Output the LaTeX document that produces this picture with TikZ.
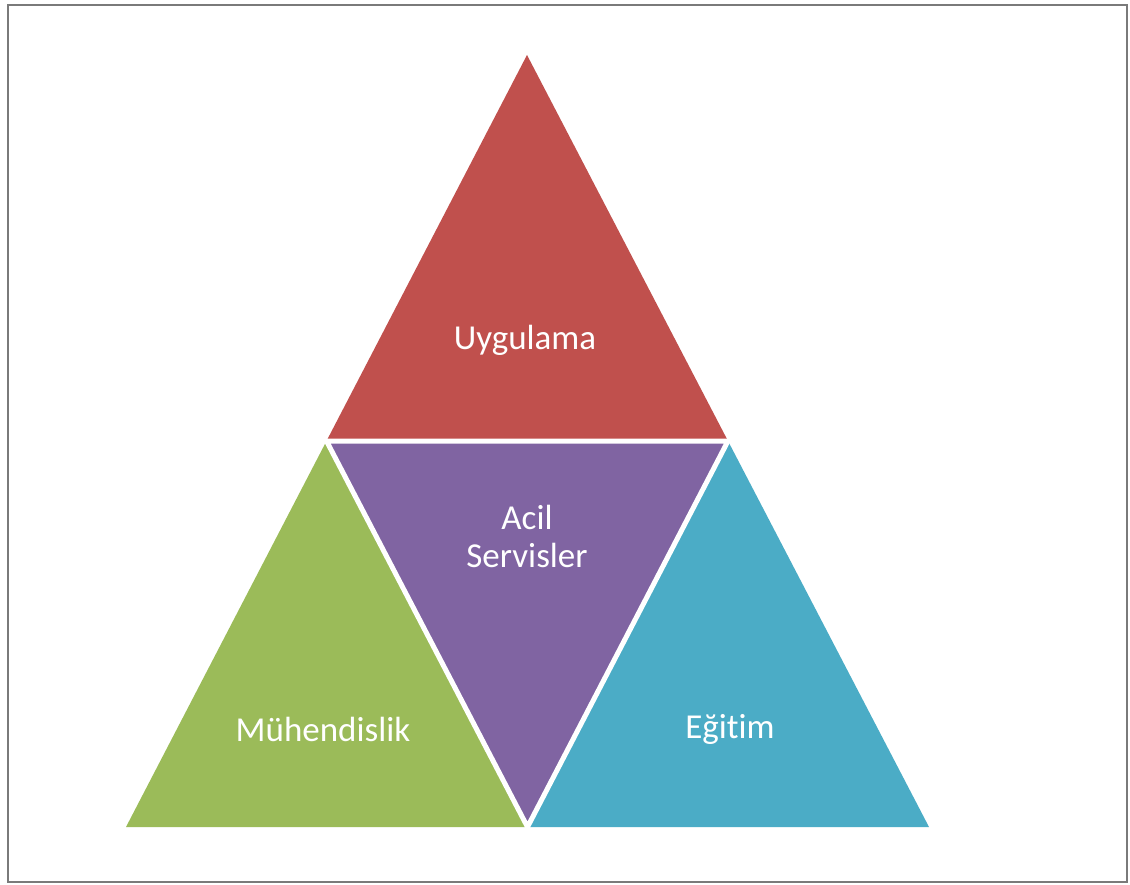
\documentclass[tikz,border=0pt]{standalone}
\usepackage{fontspec}
\setmainfont{Carlito}[Ligatures=NoCommon,RawFeature={-liga;-calt}]
\usetikzlibrary{calc}
\definecolor{frame}{HTML}{7A7A7A}
\definecolor{cred}{HTML}{C0504D}
\definecolor{cpurple}{HTML}{8064A2}
\definecolor{cgreen}{HTML}{9BBB59}
\definecolor{cblue}{HTML}{4BACC6}
\tikzset{
  lbl/.style={text=white, font=\fontsize{35}{38}\selectfont, align=center, inner sep=0pt},
  gap/.style={draw=white, line width=5pt, line join=miter}
}
\begin{document}
\begin{tikzpicture}[x=1pt, y=-1pt]
  \useasboundingbox (0,0) rectangle (1130,885);
  \fill[white] (0,0) rectangle (1130,885);
  \draw[frame, line width=2.8pt] (8,5) rectangle (1127,882);
  % outer corners and edge midpoints
  \coordinate (A) at (527,55);
  \coordinate (B) at (126,827);
  \coordinate (C) at (929,827);
  \coordinate (AB) at ($(A)!0.5!(B)$);
  \coordinate (AC) at ($(A)!0.5!(C)$);
  \coordinate (BC) at ($(B)!0.5!(C)$);
  % the four sub-triangles
  \fill[cred] (A) -- (AB) -- (AC) -- cycle;
  \fill[cgreen] (AB) -- (B) -- (BC) -- cycle;
  \fill[cblue] (AC) -- (BC) -- (C) -- cycle;
  \fill[cpurple] (AB) -- (AC) -- (BC) -- cycle;
  % white seams between the pieces
  \draw[gap] (AB) -- (AC) -- (BC) -- cycle;
  % labels
  \node[lbl] (uyg) at (525,340) {Uygulama};
  \node[lbl] (acil) at (527,536) {Acil\\Servisler};
  \node[lbl] (muh) at (323,729) {Mühendislik};
  \node[lbl] (egi) at (730,729) {Eği\hbox{t}im};
\end{tikzpicture}
\end{document}
